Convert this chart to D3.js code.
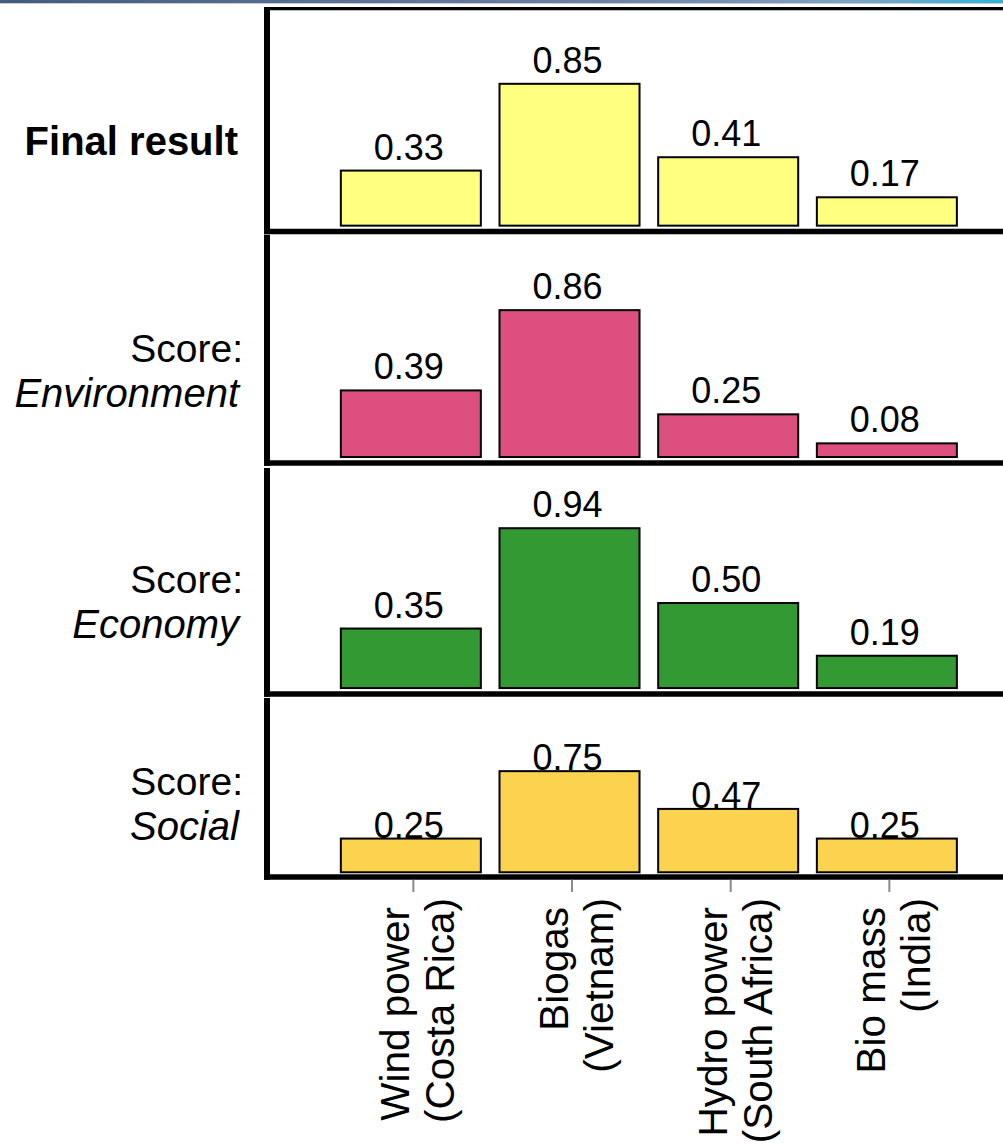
<!DOCTYPE html>
<html>
<head>
<meta charset="utf-8">
<script src="https://cdn.jsdelivr.net/npm/d3@7"></script>
<style>
  html, body { margin: 0; padding: 0; background: #ffffff; }
  svg { display: block; }
  text { font-family: "Liberation Sans", Arial, Helvetica, sans-serif; fill: #000; }
</style>
</head>
<body>
<svg id="chart" width="1003" height="1145"></svg>
<script>
// Technologies compared (two-line axis labels)
const techNames  = ["Wind power", "Biogas", "Hydro power", "Bio mass"];
const techPlaces = ["(Costa Rica)", "(Vietnam)", "(South Africa)", "(India)"];

// Scores per row
const finalResult = [0.33, 0.85, 0.41, 0.17];
const environment = [0.39, 0.86, 0.25, 0.08];
const economy     = [0.35, 0.94, 0.50, 0.19];
const social      = [0.25, 0.75, 0.47, 0.25];

// Row titles
const rowHeads  = ["Final result", "Score:", "Score:", "Score:"];
const rowSubs   = ["", "Environment", "Economy", "Social"];

// Fill colours per row
const rowColors = ["#ffff80", "#dd4f7e", "#339933", "#fcd34f"];

const rows = [finalResult, environment, economy, social];

// Panel geometry (axis line positions)
const panels = [
  { top: 8.7, bottom: 231.5, labelGap: 11, lineTop: 7 },
  { top: 235, bottom: 463,   labelGap: 11, lineTop: 235 },
  { top: 467, bottom: 694,   labelGap: 11, lineTop: 468 },
  { top: 697, bottom: 877,   labelGap: 1,  lineTop: 698 }
];

const svg = d3.select("#chart");
const W = 1003;
const axisX = 267;

// Slide header stripe
const defs = svg.append("defs");
const grad = defs.append("linearGradient").attr("id", "hdr").attr("x1", "0%").attr("x2", "100%");
grad.append("stop").attr("offset", "0%").attr("stop-color", "#46597f");
grad.append("stop").attr("offset", "60%").attr("stop-color", "#6d80a4");
grad.append("stop").attr("offset", "85%").attr("stop-color", "#7fa3c4");
grad.append("stop").attr("offset", "100%").attr("stop-color", "#2fb5d8");
svg.append("rect").attr("x", 0).attr("y", 0).attr("width", W).attr("height", 3).attr("fill", "url(#hdr)");
svg.append("rect").attr("x", 0).attr("y", 3).attr("width", W).attr("height", 1).attr("fill", "#c4ccd9");

// Shared horizontal scale
const x = d3.scaleBand()
  .domain(techNames)
  .range([331.5, 966.2])
  .paddingInner(0.105)
  .paddingOuter(0.0525);

rows.forEach((vals, i) => {
  const p = panels[i];
  const y = d3.scaleLinear().domain([-0.035, 1.3]).range([p.bottom, p.top]);
  const g = svg.append("g");

  // bars
  g.selectAll("rect.bar")
    .data(vals)
    .join("rect")
    .attr("class", "bar")
    .attr("x", (d, j) => x(techNames[j]) + 1)
    .attr("width", x.bandwidth() - 2)
    .attr("y", d => y(d))
    .attr("height", d => y(0) - y(d))
    .attr("fill", rowColors[i])
    .attr("stroke", "#000")
    .attr("stroke-width", 2);

  // value labels
  g.selectAll("text.val")
    .data(vals)
    .join("text")
    .attr("class", "val")
    .attr("x", (d, j) => x(techNames[j]) + x.bandwidth() / 2 - 2)
    .attr("y", d => y(d) - p.labelGap)
    .attr("text-anchor", "middle")
    .style("font-size", "36px")
    .text(d => d.toFixed(2));

  // axis lines
  g.append("line")
    .attr("x1", axisX).attr("x2", axisX)
    .attr("y1", p.lineTop).attr("y2", p.bottom + 2.8)
    .attr("stroke", "#000").attr("stroke-width", 6);
  g.append("line")
    .attr("x1", axisX - 3).attr("x2", W)
    .attr("y1", p.bottom).attr("y2", p.bottom)
    .attr("stroke", "#000").attr("stroke-width", 5.5);
  if (i === 0) {
    g.append("line")
      .attr("x1", axisX - 3).attr("x2", W)
      .attr("y1", p.top).attr("y2", p.top)
      .attr("stroke", "#000").attr("stroke-width", 3.2);
  }

  // row title, centred on mid-scale
  const cy = y(0.5);
  if (rowSubs[i] === "") {
    svg.append("text")
      .attr("x", 238).attr("y", cy + 13)
      .attr("text-anchor", "end")
      .style("font-size", "40px").style("font-weight", "bold")
      .text(rowHeads[i]);
  } else {
    svg.append("text")
      .attr("x", 243).attr("y", cy - 10)
      .attr("text-anchor", "end")
      .style("font-size", "39px")
      .text(rowHeads[i]);
    svg.append("text")
      .attr("x", 239).attr("y", cy + 35)
      .attr("text-anchor", "end")
      .style("font-size", "40px").style("font-style", "italic")
      .text(rowSubs[i]);
  }
});

// bottom category axis: ticks and rotated two-line labels
const base = panels[3].bottom;
const tickShift = 2.5;
const cat = svg.append("g");
cat.selectAll("line.tick")
  .data(techNames)
  .join("line")
  .attr("class", "tick")
  .attr("x1", d => x(d) + x.bandwidth() / 2 + tickShift)
  .attr("x2", d => x(d) + x.bandwidth() / 2 + tickShift)
  .attr("y1", base + 2.8)
  .attr("y2", base + 15)
  .attr("stroke", "#8a8a8a").attr("stroke-width", 2);

const lbl = cat.selectAll("g.lbl")
  .data(techNames)
  .join("g")
  .attr("class", "lbl")
  .attr("transform", d => `translate(${x(d) + x.bandwidth() / 2 + tickShift},${base + 18}) rotate(-90)`);
lbl.append("text")
  .attr("x", -12).attr("y", -4)
  .attr("text-anchor", "end")
  .style("font-size", "40.5px")
  .text(d => d);
lbl.append("text")
  .attr("x", -3).attr("y", 41)
  .attr("text-anchor", "end")
  .style("font-size", "40.5px")
  .text((d, j) => techPlaces[j]);
</script>
</body>
</html>
